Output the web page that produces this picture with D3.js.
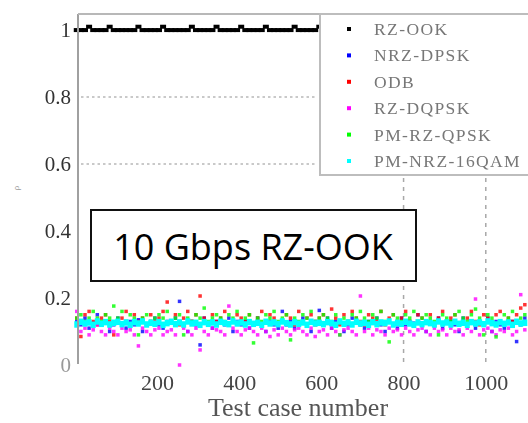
<!DOCTYPE html>
<html>
<head>
<meta charset="utf-8">
<script src="https://cdn.jsdelivr.net/npm/d3@7"></script>
<style>
  body { margin: 0; background: #fff; }
  svg { display: block; }
</style>
</head>
<body>
<div id="chart"></div>
<script>
// Test cases are sampled every 10 cases (5, 15, ... 1095)
var testCases = d3.range(5, 1100, 10);

var seriesNames = ["RZ-OOK", "NRZ-DPSK", "ODB", "RZ-DQPSK", "PM-RZ-QPSK", "PM-NRZ-16QAM"];
var seriesColors = ["#000000", "#0000ff", "#ff0000", "#ff00ff", "#00ff00", "#00ffff"];

var yTicks = [0, 0.2, 0.4, 0.6, 0.8, 1];
var yTickLabels = ["0", "0.2", "0.4", "0.6", "0.8", "1"];
var xTicks = [200, 400, 600, 800, 1000];
var xTickLabels = ["200", "400", "600", "800", "1000"];
var hGrid = [0.8, 0.6];
var vGrid = [800, 1000];

var rzOok = [
  1.0,1.0,1.0,1.01,1.0,1.0,1.0,1.0,1.01,1.0,
  1.0,1.0,1.0,1.0,1.0,1.01,1.0,1.0,1.0,1.0,
  1.0,1.01,1.0,1.0,1.0,1.0,1.0,1.0,1.01,1.0,
  1.0,1.0,1.0,1.0,1.01,1.0,1.0,1.0,1.0,1.0,
  1.01,1.0,1.0,1.0,1.0,1.0,1.01,1.0,1.0,1.0,
  1.0,1.0,1.0,1.01,1.0,1.0,1.0,1.0,1.0,1.01,
  1.0,1.0,1.0,1.0,1.01,1.0,1.0,1.0,1.0,1.0,
  1.0,1.01,1.0,1.0,1.0,1.0,1.0,1.01,1.0,1.0,
  1.0,1.0,1.0,1.0,1.01,1.0,1.0,1.0,1.0,1.0,
  1.01,1.0,1.0,1.0,1.0,1.0,1.01,1.0,1.0,1.0,
  1.0,1.0,1.01,1.0,1.0,1.0,1.0,1.0,1.01,1.0
];
var nrzDpsk = [
  0.13,0.12,0.14,0.11,0.125,0.15,0.12,0.13,0.10,0.12,
  0.14,0.125,0.11,0.13,0.12,0.135,0.10,0.12,0.13,0.14,
  0.12,0.11,0.13,0.125,0.14,0.19,0.12,0.10,0.13,0.12,
  0.06,0.14,0.12,0.11,0.13,0.125,0.12,0.14,0.10,0.13,
  0.12,0.13,0.11,0.125,0.14,0.12,0.10,0.13,0.12,0.11,
  0.16,0.12,0.13,0.11,0.125,0.14,0.12,0.10,0.13,0.163,
  0.12,0.14,0.11,0.13,0.125,0.10,0.12,0.14,0.13,0.12,
  0.11,0.13,0.125,0.14,0.12,0.10,0.13,0.12,0.11,0.14,
  0.12,0.13,0.125,0.15,0.12,0.10,0.13,0.12,0.14,0.11,
  0.125,0.13,0.12,0.10,0.14,0.12,0.13,0.11,0.125,0.12,
  0.14,0.10,0.13,0.12,0.11,0.125,0.13,0.07,0.12,0.14
];
var odb = [
  0.14,0.085,0.15,0.16,0.13,0.12,0.14,0.15,0.13,0.09,
  0.13,0.14,0.16,0.12,0.15,0.13,0.14,0.12,0.15,0.13,
  0.14,0.16,0.188,0.13,0.15,0.12,0.14,0.16,0.13,0.15,
  0.206,0.14,0.12,0.15,0.13,0.14,0.16,0.12,0.13,0.15,
  0.14,0.13,0.15,0.12,0.14,0.16,0.13,0.15,0.14,0.12,
  0.13,0.15,0.14,0.12,0.16,0.13,0.14,0.15,0.12,0.14,
  0.15,0.13,0.167,0.14,0.12,0.15,0.13,0.16,0.14,0.13,
  0.12,0.15,0.14,0.13,0.16,0.12,0.14,0.15,0.13,0.14,
  0.16,0.13,0.12,0.15,0.14,0.13,0.15,0.12,0.14,0.16,
  0.13,0.14,0.15,0.12,0.13,0.14,0.16,0.13,0.12,0.15,
  0.14,0.13,0.15,0.16,0.12,0.14,0.13,0.15,0.17,0.18
];
var rzDqpsk = [
  0.16,0.10,0.11,0.09,0.105,0.12,0.10,0.09,0.11,0.10,
  0.09,0.11,0.10,0.105,0.09,0.057,0.11,0.10,0.09,0.105,
  0.11,0.09,0.10,0.105,0.09,0.0,0.11,0.10,0.09,0.11,
  0.045,0.10,0.09,0.11,0.105,0.10,0.09,0.176,0.11,0.10,
  0.09,0.105,0.11,0.10,0.09,0.11,0.10,0.085,0.105,0.09,
  0.11,0.10,0.09,0.105,0.11,0.10,0.09,0.11,0.085,0.10,
  0.105,0.09,0.11,0.10,0.09,0.105,0.11,0.10,0.09,0.206,
  0.10,0.11,0.09,0.105,0.10,0.09,0.11,0.10,0.105,0.09,
  0.11,0.10,0.09,0.105,0.11,0.10,0.09,0.11,0.10,0.105,
  0.09,0.11,0.10,0.105,0.09,0.11,0.10,0.197,0.09,0.105,
  0.11,0.10,0.09,0.105,0.10,0.11,0.09,0.10,0.21,0.105
];
var pmRzQpsk = [
  0.14,0.15,0.13,0.14,0.16,0.14,0.13,0.15,0.14,0.176,
  0.14,0.16,0.13,0.15,0.14,0.09,0.14,0.15,0.13,0.14,
  0.15,0.14,0.16,0.13,0.14,0.15,0.09,0.14,0.13,0.15,
  0.14,0.17,0.13,0.14,0.15,0.14,0.13,0.15,0.14,0.16,
  0.13,0.14,0.15,0.066,0.14,0.13,0.15,0.14,0.16,0.13,
  0.14,0.15,0.075,0.14,0.13,0.15,0.14,0.16,0.13,0.14,
  0.15,0.14,0.13,0.15,0.09,0.14,0.13,0.15,0.14,0.16,
  0.14,0.13,0.15,0.14,0.16,0.13,0.069,0.15,0.14,0.13,
  0.15,0.14,0.16,0.13,0.14,0.15,0.14,0.13,0.09,0.15,
  0.14,0.13,0.15,0.16,0.14,0.13,0.15,0.167,0.14,0.09,
  0.15,0.14,0.084,0.13,0.15,0.14,0.16,0.13,0.14,0.15
];
var pmNrz16qam = [
  0.121,0.129,0.124,0.127,0.12,0.13,0.123,0.128,0.121,0.126,
  0.129,0.122,0.127,0.12,0.128,0.124,0.13,0.121,0.126,0.123,
  0.128,0.12,0.125,0.129,0.122,0.127,0.121,0.13,0.124,0.126,
  0.12,0.128,0.123,0.127,0.121,0.129,0.125,0.122,0.13,0.124,
  0.127,0.121,0.128,0.123,0.126,0.12,0.129,0.124,0.127,0.122,
  0.13,0.125,0.121,0.128,0.123,0.127,0.12,0.129,0.124,0.126,
  0.122,0.128,0.125,0.12,0.13,0.123,0.127,0.121,0.129,0.124,
  0.126,0.12,0.128,0.122,0.127,0.125,0.13,0.121,0.126,0.123,
  0.129,0.124,0.12,0.127,0.122,0.128,0.125,0.121,0.13,0.124,
  0.127,0.121,0.129,0.123,0.126,0.12,0.128,0.124,0.127,0.122,
  0.13,0.125,0.121,0.128,0.123,0.127,0.12,0.129,0.124,0.126
];
var seriesValues = [rzOok, nrzDpsk, odb, rzDqpsk, pmRzQpsk, pmNrz16qam];

var boxLabel = "10 Gbps RZ-OOK";
var xLabel = "Test case number";

var width = 528, height = 423;

var svg = d3.select("#chart").append("svg")
  .attr("width", width)
  .attr("height", height);

// soft blur, the original text is a low-res picture
var defs = svg.append("defs");
defs.append("filter").attr("id", "soft")
  .append("feGaussianBlur").attr("stdDeviation", 0.45);

svg.append("rect").attr("width", width).attr("height", height).attr("fill", "#fff");

var x = d3.scaleLinear().domain([8, 1110]).range([78, 531]);
var y = d3.scaleLinear().domain([0, 1.048]).range([365, 14]);

// dotted grid lines (only the parts that show)
svg.selectAll(".hgrid")
  .data(hGrid)
  .enter().append("line")
  .attr("class", "hgrid")
  .attr("x1", x(8) + 3).attr("x2", 316)
  .attr("y1", function(d) { return y(d); })
  .attr("y2", function(d) { return y(d); })
  .attr("stroke", "#b8b8b8")
  .attr("stroke-width", 1.5)
  .attr("stroke-dasharray", "2.5,3");

svg.selectAll(".vgrid")
  .data(vGrid)
  .enter().append("line")
  .attr("class", "vgrid")
  .attr("x1", function(d) { return x(d); })
  .attr("x2", function(d) { return x(d); })
  .attr("y1", 178).attr("y2", y(0))
  .attr("stroke", "#a8a8a8")
  .attr("stroke-width", 1.5)
  .attr("stroke-dasharray", "4,5");

// scatter points, [width, height] per series
var markSize = [[6, 4], [3.5, 3.5], [3.5, 3.5], [3.5, 3.5], [3.5, 3.5], [5, 6.5]];
seriesValues.forEach(function(vals, s) {
  var w = markSize[s][0], h = markSize[s][1];
  svg.append("g")
    .selectAll("rect")
    .data(vals)
    .enter().append("rect")
    .attr("x", function(d, i) { return x(testCases[i]) - w / 2; })
    .attr("y", function(d) { return y(d) - h / 2; })
    .attr("width", w)
    .attr("height", h)
    .attr("fill", seriesColors[s])
    .attr("opacity", s == 5 || s == 0 ? 1 : 0.8);
});

// frame: left axis and top line
svg.append("line")
  .attr("x1", 78).attr("x2", 78).attr("y1", 14).attr("y2", 364)
  .attr("stroke", "#a0a0a0").attr("stroke-width", 2);
svg.append("line")
  .attr("x1", 78).attr("x2", width).attr("y1", 14).attr("y2", 14)
  .attr("stroke", "#b8b8b8").attr("stroke-width", 2);

// y axis labels
var yAxis = svg.append("g")
  .attr("transform", "translate(78,0)")
  .call(d3.axisLeft(y).tickValues(yTicks).tickSize(0).tickPadding(7)
    .tickFormat(function(d, i) { return yTickLabels[i]; }));
yAxis.select(".domain").remove();
yAxis.selectAll("text")
  .attr("font-family", "Liberation Serif, serif")
  .attr("font-size", 21)
  .attr("fill", function(d) { return d == 0 ? "#999" : "#333"; })
  .attr("filter", "url(#soft)");

// x axis labels
var xAxis = svg.append("g")
  .attr("transform", "translate(0," + y(0) + ")")
  .call(d3.axisBottom(x).tickValues(xTicks).tickSize(0).tickPadding(9)
    .tickFormat(function(d, i) { return xTickLabels[i]; }));
xAxis.select(".domain").remove();
xAxis.selectAll("text")
  .attr("font-family", "Liberation Serif, serif")
  .attr("font-size", 22)
  .attr("fill", "#444")
  .attr("filter", "url(#soft)");

svg.append("text")
  .attr("x", 298).attr("y", 416)
  .attr("text-anchor", "middle")
  .attr("font-family", "Liberation Serif, serif")
  .attr("font-size", 26)
  .attr("fill", "#555")
  .attr("filter", "url(#soft)")
  .text(xLabel);

// tiny y label
svg.append("text")
  .attr("transform", "translate(19,188) rotate(-90)")
  .attr("text-anchor", "middle")
  .attr("font-family", "Liberation Serif, serif")
  .attr("font-size", 9)
  .attr("fill", "#999")
  .text("ρ");

// legend
var legend = svg.append("g");
legend.append("rect")
  .attr("x", 320).attr("y", 14)
  .attr("width", 220).attr("height", 161)
  .attr("fill", "#fff")
  .attr("stroke", "#bdbdbd")
  .attr("stroke-width", 2);

var rows = legend.selectAll(".row")
  .data(seriesNames)
  .enter().append("g")
  .attr("class", "row")
  .attr("transform", function(d, i) { return "translate(0," + (29 + i * 26.4) + ")"; });

rows.append("rect")
  .attr("x", 347).attr("y", -2)
  .attr("width", 4).attr("height", 4)
  .attr("fill", function(d, i) { return seriesColors[i]; });

rows.append("text")
  .attr("x", 374).attr("y", 6)
  .attr("font-family", "Liberation Serif, serif")
  .attr("font-size", 17.5)
  .attr("letter-spacing", 1.4)
  .attr("fill", "#777")
  .attr("filter", "url(#soft)")
  .text(function(d) { return d; });

// annotation box
svg.append("rect")
  .attr("x", 91).attr("y", 210)
  .attr("width", 325).attr("height", 71)
  .attr("fill", "#fff")
  .attr("stroke", "#111")
  .attr("stroke-width", 2);
svg.append("text")
  .attr("x", 253).attr("y", 260)
  .attr("text-anchor", "middle")
  .attr("font-family", "Open Sans, Noto Sans, sans-serif")
  .attr("font-size", 36)
  .attr("fill", "#000")
  .text(boxLabel);
</script>
</body>
</html>
